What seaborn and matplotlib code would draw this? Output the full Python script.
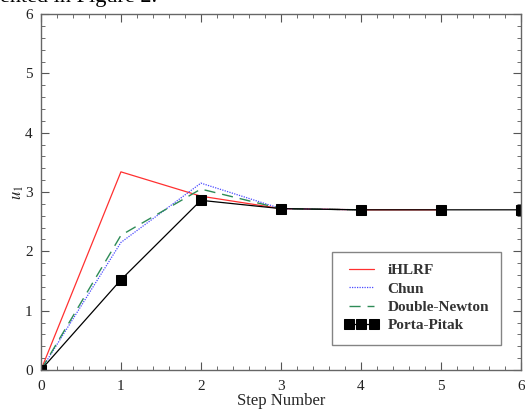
import numpy as np
import pandas as pd
import matplotlib
matplotlib.use('Agg')
import matplotlib.pyplot as plt
import seaborn as sns
from matplotlib.ticker import MultipleLocator

# --- DATA ---
steps_ihlrf = [0, 1, 2, 3, 4, 5]
u_ihlrf = [0.0, 3.34, 2.93, 2.72, 2.70, 2.70]

steps_chun = [0, 1, 2, 3, 4]
u_chun = [0.0, 2.15, 3.15, 2.72, 2.70]

steps_dn = [0, 1, 2, 3, 4]
u_dn = [0.0, 2.27, 3.05, 2.72, 2.70]

steps_pp = [0, 1, 2, 3, 4, 5, 6]
u_pp = [0.0, 1.52, 2.86, 2.72, 2.70, 2.70, 2.70]

# --- STYLE ---
sns.set_style("ticks")
plt.rcParams['font.family'] = ['Liberation Serif', 'DejaVu Serif']
plt.rcParams['mathtext.fontset'] = 'stix'

fig = plt.figure(figsize=(5.25, 4.11), dpi=100)
ax = fig.add_axes([0.078, 0.0998, 0.914, 0.866])

sns.lineplot(x=steps_ihlrf, y=u_ihlrf, ax=ax, color='#ff3030', lw=0.9, label='iHLRF')
sns.lineplot(x=steps_chun, y=u_chun, ax=ax, color='#4a4aff', lw=0.9, ls=(0, (1, 1)), label='Chun')
sns.lineplot(x=steps_dn, y=u_dn, ax=ax, color='#2e8b57', lw=1.0, ls=(0, (8, 5)), label='Double-Newton')
sns.lineplot(x=steps_pp, y=u_pp, ax=ax, color='black', lw=0.9, marker='s', markersize=7,
             markeredgecolor='black', label='Porta-Pitak')

ax.set_xlim(0, 6)
ax.set_ylim(0, 6)
ax.xaxis.set_major_locator(MultipleLocator(1))
ax.xaxis.set_minor_locator(MultipleLocator(0.2))
ax.yaxis.set_major_locator(MultipleLocator(1))
ax.yaxis.set_minor_locator(MultipleLocator(0.2))
ax.tick_params(which='both', direction='in', top=True, right=True, color='#555555',
               labelsize=11, labelcolor='#222222')
ax.tick_params(axis='x', pad=7)
ax.tick_params(axis='y', pad=6)
ax.tick_params(which='major', length=6, width=0.8)
ax.tick_params(which='minor', length=3, width=0.6)
for s in ax.spines.values():
    s.set_color('#666666')
    s.set_linewidth(1.0)

ax.set_xlabel("Step Number", fontsize=12, labelpad=0)
ax.set_ylabel(r"$u_1$", fontsize=12, labelpad=-1)

leg = ax.legend(loc='lower right', bbox_to_anchor=(0.975, 0.05), frameon=True, fancybox=False,
                edgecolor='#666666', handlelength=2.2, handletextpad=0.6, numpoints=3,
                borderpad=0.8, labelspacing=0.3,
                prop={'family': 'Liberation Serif', 'weight': 'bold', 'size': 11})
leg.get_frame().set_linewidth(1.0)
for t in leg.get_texts():
    t.set_color('#333333')

fig.text(0.0, 1.03, "ented in Figure 2.", fontsize=16, ha='left', va='top', color='black')

fig.savefig("out.png", dpi=100)
